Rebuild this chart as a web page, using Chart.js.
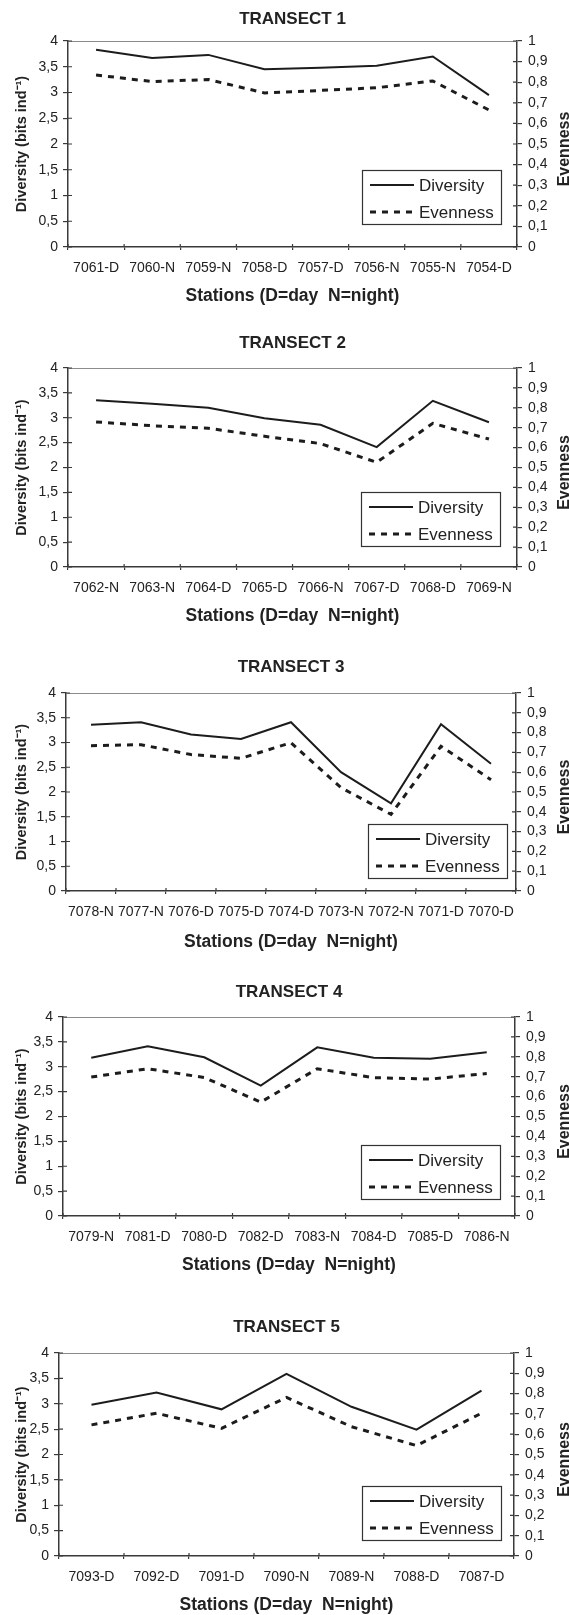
<!DOCTYPE html>
<html>
<head>
<meta charset="utf-8">
<script src="https://cdn.jsdelivr.net/npm/chart.js@4/dist/chart.umd.min.js"></script>
<style>
  body { margin: 0; background: #fff; width: 569px; height: 1615px; position: relative; overflow: hidden; }
  canvas { position: absolute; left: 0; }
</style>
</head>
<body>
<canvas id="t1" width="569" height="323" style="top:0px"></canvas>
<canvas id="t2" width="569" height="323" style="top:323px"></canvas>
<canvas id="t3" width="569" height="323" style="top:646px"></canvas>
<canvas id="t4" width="569" height="323" style="top:969px"></canvas>
<canvas id="t5" width="569" height="323" style="top:1292px"></canvas>
<script>
// data
const t1Stations = ['7061-D', '7060-N', '7059-N', '7058-D', '7057-D', '7056-N', '7055-N', '7054-D'];
const t1Diversity = [3.83, 3.67, 3.73, 3.45, 3.48, 3.52, 3.70, 2.95];
const t1Evenness = [0.835, 0.803, 0.813, 0.748, 0.760, 0.773, 0.806, 0.665];

const t2Stations = ['7062-N', '7063-N', '7064-D', '7065-D', '7066-N', '7067-D', '7068-D', '7069-N'];
const t2Diversity = [3.35, 3.28, 3.20, 2.99, 2.86, 2.41, 3.34, 2.91];
const t2Evenness = [0.729, 0.710, 0.697, 0.657, 0.620, 0.526, 0.722, 0.643];

const t3Stations = ['7078-N', '7077-N', '7076-D', '7075-D', '7074-D', '7073-N', '7072-N', '7071-D', '7070-D'];
const t3Diversity = [3.36, 3.41, 3.16, 3.07, 3.41, 2.40, 1.77, 3.37, 2.57];
const t3Evenness = [0.734, 0.739, 0.689, 0.670, 0.749, 0.522, 0.387, 0.731, 0.562];

const t4Stations = ['7079-N', '7081-D', '7080-D', '7082-D', '7083-N', '7084-D', '7085-D', '7086-N'];
const t4Diversity = [3.18, 3.41, 3.19, 2.62, 3.39, 3.18, 3.16, 3.29];
const t4Evenness = [0.698, 0.740, 0.696, 0.572, 0.740, 0.695, 0.688, 0.716];

const t5Stations = ['7093-D', '7092-D', '7091-D', '7090-N', '7089-N', '7088-D', '7087-D'];
const t5Diversity = [2.98, 3.22, 2.89, 3.59, 2.94, 2.49, 3.26];
const t5Evenness = [0.646, 0.703, 0.629, 0.781, 0.637, 0.544, 0.703];

const diversityRange = [0, 4, 0.5];
const evennessRange = [0, 1, 0.1];

const transects = [
  { title: 'TRANSECT 1', stations: t1Stations, diversity: t1Diversity, evenness: t1Evenness },
  { title: 'TRANSECT 2', stations: t2Stations, diversity: t2Diversity, evenness: t2Evenness },
  { title: 'TRANSECT 3', stations: t3Stations, diversity: t3Diversity, evenness: t3Evenness },
  { title: 'TRANSECT 4', stations: t4Stations, diversity: t4Diversity, evenness: t4Evenness },
  { title: 'TRANSECT 5', stations: t5Stations, diversity: t5Diversity, evenness: t5Evenness }
];

// where each plot sits inside its canvas
const frames = [
  { left: 68, right: 517, top: 41, bottom: 247, titleY: 19, xTitleY: 296, legendX: 362, legendY: 170 },
  { left: 68, right: 517, top: 45, bottom: 244, titleY: 20, xTitleY: 293, legendX: 361, legendY: 169 },
  { left: 66, right: 516, top: 47, bottom: 245, titleY: 21, xTitleY: 296, legendX: 368, legendY: 178 },
  { left: 63, right: 515, top: 48, bottom: 247, titleY: 23, xTitleY: 296, legendX: 361, legendY: 176 },
  { left: 59, right: 514, top: 61, bottom: 264, titleY: 35, xTitleY: 313, legendX: 362, legendY: 194 }
];

const CANVAS_W = 569, CANVAS_H = 323;
const ink = '#222';
const axisColor = '#3a3a3a';
const fontFamily = "'Liberation Sans', Arial, Helvetica, sans-serif";

Chart.defaults.font.family = fontFamily;
Chart.defaults.color = ink;

function comma(v) {
  const r = Math.round(v * 10) / 10;
  return String(r).replace('.', ',');
}

// top border, inner tick halves, the boxed legend and the right axis title
const decor = {
  id: 'decor',
  afterDraw(chart) {
    const { ctx, chartArea: a } = chart;
    const x = chart.scales.x, yl = chart.scales.y, yr = chart.scales.y2;
    const fr = chart.options.plugins.decor;
    ctx.save();

    ctx.strokeStyle = '#8c8c8c';
    ctx.lineWidth = 1;
    ctx.beginPath();
    ctx.moveTo(a.left, a.top + 0.5);
    ctx.lineTo(a.right, a.top + 0.5);
    ctx.stroke();

    ctx.strokeStyle = axisColor;
    ctx.lineWidth = 1.2;
    ctx.beginPath();
    yl.ticks.forEach((t, i) => {
      const p = yl.getPixelForTick(i);
      ctx.moveTo(a.left, p); ctx.lineTo(a.left + 4, p);
    });
    yr.ticks.forEach((t, i) => {
      const p = yr.getPixelForTick(i);
      ctx.moveTo(a.right - 4, p); ctx.lineTo(a.right, p);
    });
    const n = chart.data.labels.length;
    for (let k = 0; k <= n; k++) {
      const p = x.left + (x.right - x.left) * k / n;
      ctx.moveTo(p, a.bottom - 3); ctx.lineTo(p, a.bottom);
    }
    ctx.stroke();

    // legend
    const bx = fr.legendX, by = fr.legendY, bw = 139, bh = 54;
    ctx.fillStyle = '#fff';
    ctx.fillRect(bx, by, bw, bh);
    ctx.strokeStyle = '#333';
    ctx.lineWidth = 1.2;
    ctx.strokeRect(bx + 0.5, by + 0.5, bw, bh);
    ctx.font = '17px ' + fontFamily;
    ctx.textBaseline = 'middle';
    ctx.textAlign = 'left';
    chart.data.datasets.forEach((ds, i) => {
      const yy = by + 15 + i * 27;
      ctx.strokeStyle = ds.borderColor;
      ctx.lineWidth = ds.borderWidth;
      ctx.setLineDash(ds.borderDash || []);
      ctx.beginPath();
      ctx.moveTo(bx + 8, yy);
      ctx.lineTo(bx + 52, yy);
      ctx.stroke();
      ctx.setLineDash([]);
      ctx.fillStyle = ink;
      ctx.fillText(ds.label, bx + 57, yy + 1);
    });

    // right axis title, reading upwards, at the page edge
    ctx.font = 'bold 16px ' + fontFamily;
    ctx.fillStyle = ink;
    ctx.textAlign = 'center';
    ctx.textBaseline = 'alphabetic';
    ctx.translate(568.5, (a.top + a.bottom) / 2 + 5);
    ctx.rotate(-Math.PI / 2);
    ctx.fillText('Evenness', 0, 0);
    ctx.restore();
  }
};

transects.forEach((tr, idx) => {
  const fr = frames[idx];
  const titleLh = 17 * 1.2;
  const xTitleLh = 17.5 * 1.2;
  new Chart(document.getElementById('t' + (idx + 1)), {
    type: 'line',
    data: {
      labels: tr.stations,
      datasets: [
        {
          label: 'Diversity',
          data: tr.diversity,
          yAxisID: 'y',
          borderColor: '#1c1c1c',
          borderWidth: 2,
          pointRadius: 0,
          tension: 0,
          fill: false
        },
        {
          label: 'Evenness',
          data: tr.evenness,
          yAxisID: 'y2',
          borderColor: '#1c1c1c',
          borderWidth: 3,
          borderDash: [6, 6],
          pointRadius: 0,
          tension: 0,
          fill: false
        }
      ]
    },
    options: {
      responsive: false,
      animation: false,
      devicePixelRatio: 1,
      layout: { padding: 0 },
      plugins: {
        legend: { display: false },
        tooltip: { enabled: false },
        title: {
          display: true,
          text: tr.title,
          fullSize: false,
          color: ink,
          font: { size: 17, weight: 'bold', lineHeight: 1.2 },
          padding: { top: fr.titleY - titleLh / 2, bottom: fr.top - fr.titleY - titleLh / 2 }
        },
        decor: fr
      },
      scales: {
        x: {
          type: 'category',
          offset: true,
          grid: { offset: true, drawOnChartArea: false, tickLength: 3, color: axisColor, lineWidth: 1.2 },
          border: { color: axisColor, width: 1.5 },
          ticks: { autoSkip: false, maxRotation: 0, padding: 10, color: ink, font: { size: 14 } },
          title: {
            display: true,
            text: 'Stations (D=day  N=night)',
            color: ink,
            font: { size: 17.5, weight: 'bold', lineHeight: 1.2 },
            padding: { top: 0, bottom: CANVAS_H - fr.xTitleY - xTitleLh / 2 }
          },
          afterFit(s) { s.height = CANVAS_H - fr.bottom; }
        },
        y: {
          position: 'left',
          min: diversityRange[0],
          max: diversityRange[1],
          ticks: { stepSize: diversityRange[2], padding: 5, color: ink, font: { size: 14 }, callback: v => comma(v) },
          grid: { drawOnChartArea: false, tickLength: 5, color: axisColor, lineWidth: 1.2 },
          border: { color: axisColor, width: 1.5 },
          title: {
            display: true,
            text: 'Diversity (bits ind\u207B\u00B9)',
            color: ink,
            font: { size: 14.5, weight: 'bold', lineHeight: 1.2 },
            padding: { top: 22 - 14.5 * 0.6, bottom: 0 }
          },
          afterFit(s) { s.width = fr.left; }
        },
        y2: {
          position: 'right',
          min: evennessRange[0],
          max: evennessRange[1],
          ticks: { stepSize: evennessRange[2], padding: 6, color: ink, font: { size: 14 }, callback: v => comma(v) },
          grid: { drawOnChartArea: false, tickLength: 5, color: axisColor, lineWidth: 1.2 },
          border: { color: axisColor, width: 1.5 },
          afterFit(s) { s.width = CANVAS_W - fr.right; }
        }
      }
    },
    plugins: [decor]
  });
});
</script>
</body>
</html>
